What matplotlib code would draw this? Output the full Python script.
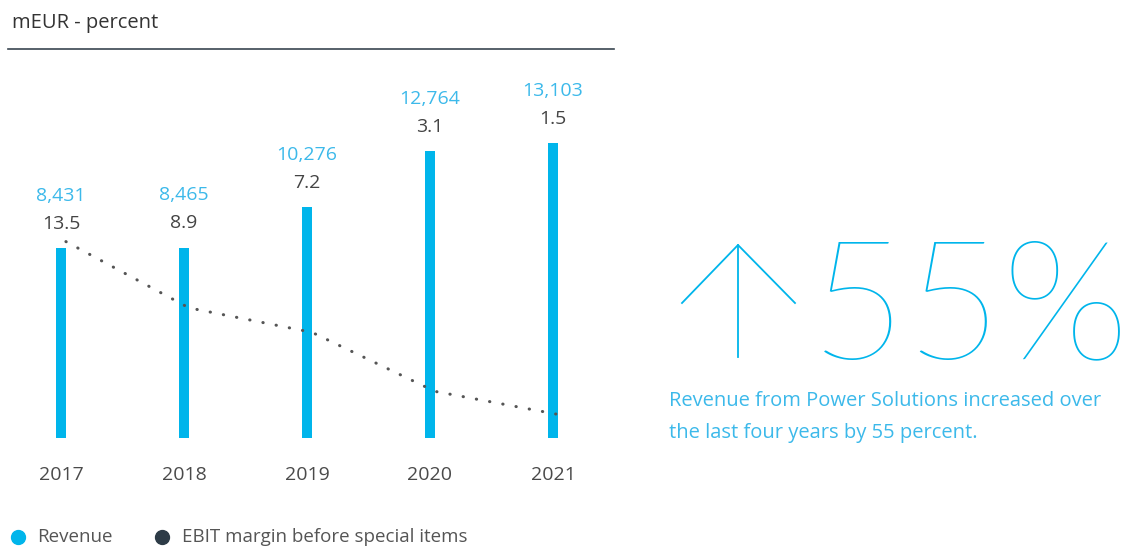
import matplotlib
matplotlib.use("Agg")
from matplotlib import pyplot as plt
from matplotlib.lines import Line2D
import numpy as np

################ Data ########################
years = ["2017", "2018", "2019", "2020", "2021"]
revenue = [8431, 8465, 10276, 12764, 13103]
ebit_margin = [13.5, 8.9, 7.2, 3.1, 1.5]
title = "mEUR - percent"
legend_labels = ["Revenue", "EBIT margin before special items"]
big_number = "55%"
note = "Revenue from Power Solutions increased over\nthe last four years by 55 percent."

################ Style ########################
BLUE = "#00b5eb"
TXT_BLUE = "#3cb9ea"
DARK = "#2d3b47"
GREY = "#444444"
W, H = 1132, 548
plt.rcParams["font.family"] = ["Open Sans", "DejaVu Sans"]

fig = plt.figure(figsize=(W / 100, H / 100), dpi=100)

def px(x0, y0, x1, y1):
    # pixel box (top-left origin) -> figure fraction
    return [x0 / W, 1 - y1 / H, (x1 - x0) / W, (y1 - y0) / H]

# chart area: bar base at y=438px, top at y=60px
ax = fig.add_axes(px(8, 60, 614, 438))
x = np.arange(len(years))
ax.bar(x, revenue, width=0.08, color=BLUE, zorder=2)
ax.set_xlim(-(61 - 8) / 123, 4 + (614 - 553) / 123)
ax.set_ylim(0, 378 / 0.0225)
ax.axis("off")

ax2 = ax.twinx()
ax2.plot(x + 0.04, ebit_margin, color="#555555", lw=2.2,
         dashes=(0.1, 4.3), dash_capstyle="round", zorder=3)
ax2.set_ylim(-2 / 14.4, -2 / 14.4 + 378 / 14.4)
ax2.axis("off")

# value labels above bars
for xi, r, m in zip(x, revenue, ebit_margin):
    ax.annotate(f"{r:,}", (xi, r), xytext=(0, 31), textcoords="offset points",
                ha="center", va="bottom", fontsize=14, color=TXT_BLUE)
    ax.annotate(f"{m:.1f}", (xi, r), xytext=(0, 11), textcoords="offset points",
                ha="center", va="bottom", fontsize=14, color=GREY)
    fig.text((8 + (xi + 53 / 123) * 123) / W, 1 - 475 / H, years[xi],
             ha="center", va="center", fontsize=14, color="#4a4a4a")

# title + rule
fig.text(12 / W, 1 - 23 / H, title, ha="left", va="center", fontsize=14.5, color="#333333")
fig.add_artist(Line2D([8 / W, 614 / W], [1 - 49 / H, 1 - 49 / H], color="#3a4550", lw=1.2))

# legend
fig.add_artist(Line2D([18 / W], [1 - 537 / H], marker="o", ms=10, color=BLUE, ls=""))
fig.text(37 / W, 1 - 537 / H, legend_labels[0], ha="left", va="center", fontsize=13.5, color="#555555")
fig.add_artist(Line2D([162 / W], [1 - 537 / H], marker="o", ms=10, color=DARK, ls=""))
fig.text(182 / W, 1 - 537 / H, legend_labels[1], ha="left", va="center", fontsize=13.5, color="#555555")

# big arrow + 55%
for xs, ys in [([738, 738], [245, 357]), ([682, 738, 795], [303, 245, 303])]:
    fig.add_artist(Line2D([v / W for v in xs], [1 - v / H for v in ys], color=BLUE, lw=1.3))
fig.text(810 / W, 1 - 358 / H, big_number, ha="left", va="baseline", fontsize=120,
         color=BLUE, fontweight=100, family=["Lato", "Roboto", "DejaVu Sans"])
fig.text(669 / W, 1 - 417 / H, note, ha="left", va="center", fontsize=14.5,
         color=TXT_BLUE, linespacing=1.8)

plt.savefig("out.png", dpi=100)
